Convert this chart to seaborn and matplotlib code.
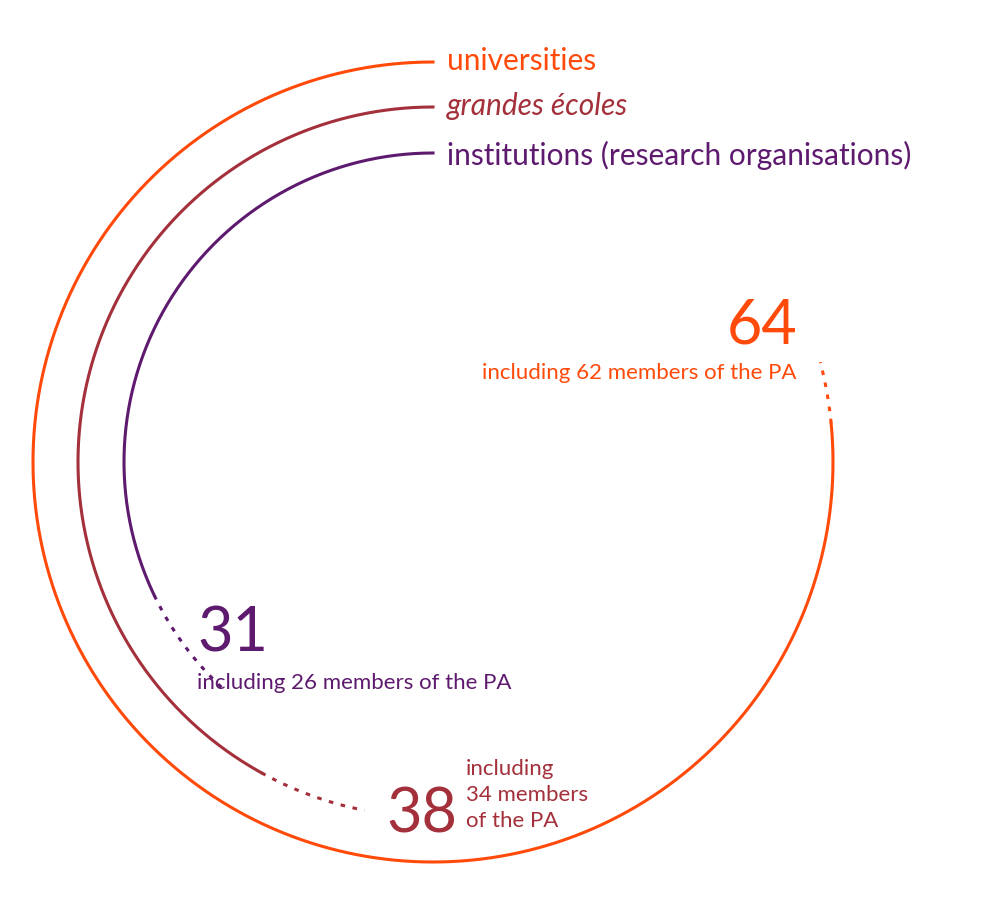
import numpy as np
import pandas as pd
import seaborn as sns
import matplotlib
matplotlib.use("Agg")
import matplotlib.pyplot as plt

categories = ["universities", "grandes écoles", "institutions (research organisations)"]
totals = [64, 38, 31]
members = [62, 34, 26]
colors = ["#ff4a0a", "#a3303a", "#5e1a6e"]
radii = [400, 355, 309]
max_value = 81

W, H = 1000, 912
fig = plt.figure(figsize=(W/100, H/100), dpi=100)
cx, cy, R = 433, 463, 420
ax = fig.add_axes([(cx-R)/W, (H-cy-R)/H, 2*R/W, 2*R/H], projection="polar")
ax.set_theta_zero_location("N")
ax.set_theta_direction(1)
ax.set_ylim(0, R)
ax.axis("off")

for cat, tot, mem, col, r in zip(categories, totals, members, colors, radii):
    t_solid = np.linspace(0, 2*np.pi*mem/max_value, 200)
    t_dash = np.linspace(2*np.pi*mem/max_value, 2*np.pi*tot/max_value, 60)
    sns.lineplot(x=t_solid, y=np.full_like(t_solid, r), ax=ax, color=col, lw=2.2, sort=False)
    sns.lineplot(x=t_dash, y=np.full_like(t_dash, r), ax=ax, color=col, lw=2.2, sort=False,
                 linestyle=(0, (1.5, 2.5)))

def t(x, y, s, **kw):
    fig.text(x/W, 1-y/H, s, family="Lato", **kw)

t(447, 61, categories[0], color=colors[0], fontsize=21.5, va="center")
t(447, 106, categories[1], color=colors[1], fontsize=21.5, va="center", style="italic")
t(447, 155, categories[2], color=colors[2], fontsize=21.5, va="center")

t(797, 326, str(totals[0]), color=colors[0], fontsize=44, ha="right", va="center")
t(797, 373, f"including {members[0]} members of the PA", color=colors[0], fontsize=16, ha="right", va="center")
t(197, 634, str(totals[2]), color=colors[2], fontsize=44, va="center")
t(197, 683, f"including {members[2]} members of the PA", color=colors[2], fontsize=16, va="center")
t(386, 815, str(totals[1]), color=colors[1], fontsize=44, va="center")
t(466, 795, f"including\n{members[1]} members\nof the PA", color=colors[1], fontsize=16, va="center", linespacing=1.35)

fig.savefig("out.png", dpi=100)
